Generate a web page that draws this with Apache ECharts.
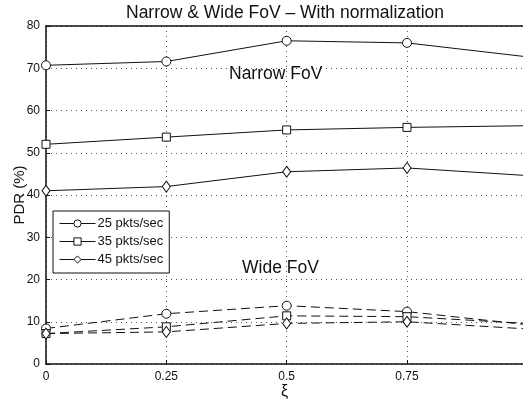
<!DOCTYPE html>
<html><head><meta charset="utf-8">
<script src="https://cdn.jsdelivr.net/npm/echarts@6/dist/echarts.min.js"></script>
<style>html,body{margin:0;padding:0;background:#fff}#c{width:523px;height:401px}</style>
</head><body><div id="c"></div>
<script>
const xi = [0, 0.25, 0.5, 0.75, 1];
const xTicks = [0, 0.25, 0.5, 0.75];
const seriesNames = ['25 pkts/sec', '35 pkts/sec', '45 pkts/sec'];
const narrow25 = [70.7, 71.6, 76.5, 76.0, 72.7];
const narrow35 = [52.0, 53.7, 55.4, 56.0, 56.4];
const narrow45 = [41.0, 42.0, 45.5, 46.4, 44.6];
const wide25 = [8.4, 11.9, 13.8, 12.4, 9.3];
const wide35 = [7.2, 8.8, 11.4, 11.2, 9.6];
const wide45 = [7.2, 7.6, 9.6, 10.0, 8.3];
const symbols = ['circle', 'rect', 'diamond'];
const symbolSizes = [9, 8, [8, 11]];

const FONT = 'Liberation Sans, Arial, sans-serif';
const chart = echarts.init(document.getElementById('c'));
function pairs(arr){ return xi.map((x,i)=>[x, arr[i]]); }
function mk(name, data, idx, dashed, showLegend){
  return {
    name: showLegend ? name : name + ' (wide)',
    type: 'line', data: pairs(data), clip: true,
    symbol: symbols[idx], symbolSize: symbolSizes[idx],
    lineStyle: {color: '#111', width: 1, type: dashed ? [9,5] : 'solid'},
    itemStyle: {color: '#fff', borderColor: '#111', borderWidth: 1},
    emphasis: {disabled: true}, animation: false, z: 3
  };
}
const series = [
  mk(seriesNames[0], narrow25, 0, false, true),
  mk(seriesNames[1], narrow35, 1, false, true),
  mk(seriesNames[2], narrow45, 2, false, true),
  mk(seriesNames[0], wide25, 0, true, false),
  mk(seriesNames[1], wide35, 1, true, false),
  mk(seriesNames[2], wide45, 2, true, false)
];
chart.setOption({
  animation: false,
  backgroundColor: '#fff',
  grid: {left: 46, top: 26, right: 0, bottom: 37, containLabel: false, outerBoundsMode: 'none'},
  legend: {
    data: seriesNames, orient: 'vertical', left: 53, top: 211, width: 119,
    itemWidth: 36, itemHeight: 9, itemGap: 5,
    padding: [6, 6, 7, 6],
    backgroundColor: '#fff', borderColor: '#111', borderWidth: 1,
    lineStyle: {width: 1},
    itemStyle: {borderWidth: 1},
    textStyle: {fontFamily: FONT, fontSize: 13, color: '#111', padding: [0,0,0,-3]},
    selectedMode: false
  },
  xAxis: [{
    type: 'value', min: 0, max: 0.991, interval: 0.25,
    name: '\u03be', nameLocation: 'middle', nameGap: 20, nameMoveOverlap: false,
    nameTextStyle: {fontFamily: FONT, fontSize: 16, color: '#111'},
    axisLine: {lineStyle: {color: '#111', width: 1.5}},
    axisTick: {inside: true, length: 4, lineStyle: {color: '#111'},
      customValues: xTicks},
    axisLabel: {fontFamily: FONT, fontSize: 12, color: '#111', margin: 7,
      customValues: xTicks,
      formatter: v => xTicks.indexOf(v) >= 0 ? String(v) : ''},
    splitLine: {show: true, lineStyle: {color: '#555', type: [1,4], width: 1}},
    showMaxLabel: false
  }, {
    type: 'value', position: 'top', min: 0, max: 0.991,
    axisLine: {show: true, onZero: false, lineStyle: {color: '#111', width: 1.5}},
    axisTick: {show: false}, axisLabel: {show: false}, splitLine: {show: false}
  }],
  yAxis: {
    type: 'value', min: 0, max: 80, interval: 10,
    name: 'PDR (%)', nameLocation: 'middle', nameGap: 19, nameMoveOverlap: false,
    nameTextStyle: {fontFamily: FONT, fontSize: 15, color: '#111'},
    axisLine: {show: true, lineStyle: {color: '#111', width: 1.5}},
    axisTick: {show: true, inside: true, length: 4, lineStyle: {color: '#111'}},
    axisLabel: {fontFamily: FONT, fontSize: 12, color: '#111', margin: 6},
    splitLine: {show: true, lineStyle: {color: '#555', type: [1,4], width: 1}}
  },
  graphic: [
    {type: 'text', x: 285, y: 4, style: {text: 'Narrow & Wide FoV \u2013 With normalization', font: '17.5px ' + FONT, fill: '#111', textAlign: 'center'}},
    {type: 'text', left: 229, top: 65, style: {text: 'Narrow FoV', font: '17.5px ' + FONT, fill: '#111'}},
    {type: 'text', left: 242, top: 259, style: {text: 'Wide FoV', font: '17.5px ' + FONT, fill: '#111'}}
  ],
  series: series
});
</script></body></html>
